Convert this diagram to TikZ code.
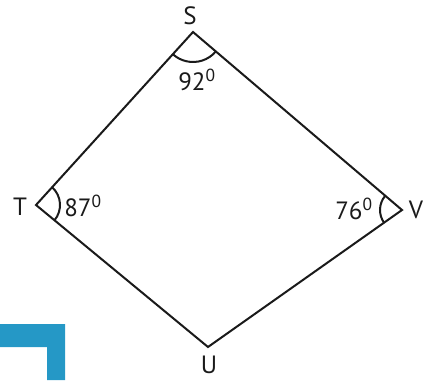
\documentclass[tikz,border=0pt]{standalone}
\usepackage{fontspec}
\setmainfont{PT Sans}
\usetikzlibrary{angles}
\definecolor{ink}{HTML}{1A1A1A}
\definecolor{tab}{HTML}{2598C6}
\tikzset{
  side/.style={draw=ink, line width=2pt, line join=miter},
  lbl/.style={font=\fontsize{25}{28}\selectfont, text=ink, inner sep=0pt},
  arcmark/.style={draw=ink, line width=2pt},
}

\begin{document}
\begin{tikzpicture}[x=1pt, y=1pt]
    \useasboundingbox (0,0) rectangle (433,380);
    % blue corner tab
    \fill[tab] (0,56) -- (65,56) -- (65,0) -- (47,0) -- (47,33) -- (0,33) -- cycle;
    % vertices
    \coordinate (S) at (193,348);
    \coordinate (T) at (36,175);
    \coordinate (U) at (208,33);
    \coordinate (V) at (402,170);
    \draw[side] (S) -- (V) -- (U) -- (T) -- cycle;
    % angle marks
    \pic[arcmark, angle radius=30pt] {angle = T--S--V};
    \pic[arcmark, angle radius=24pt] {angle = U--T--S};
    \pic[arcmark, angle radius=22pt] {angle = S--V--U};
    % vertex names
    \node[lbl] (s) at (190,364) {S};
    \node[lbl] (t) at (20,173) {T};
    \node[lbl] (v) at (416,170) {V};
    \node[lbl] (u) at (209,15) {U};
    % angle values
    \node[lbl] (as) at (197,300) {92\textsuperscript{0}};
    \node[lbl] (at) at (83,174) {87\textsuperscript{0}};
    \node[lbl] (av) at (354,171) {76\textsuperscript{0}};
\end{tikzpicture}
\end{document}
